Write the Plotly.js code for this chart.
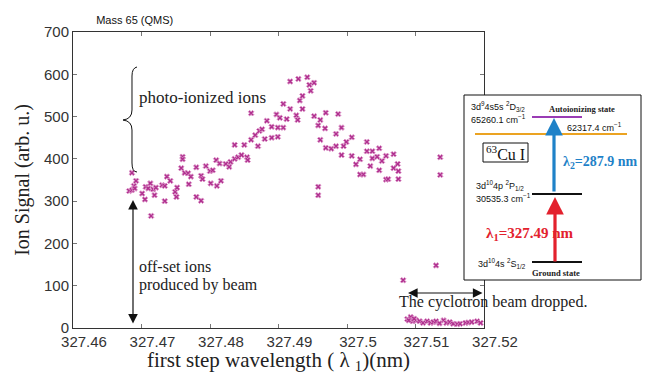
<!DOCTYPE html>
<html>
<head>
<meta charset="utf-8">
<script src="https://cdn.plot.ly/plotly-3.0.1.min.js"></script>
<style>html,body{margin:0;padding:0;background:#fff;}#chart{width:657px;height:374px;}</style>
</head>
<body>
<div id="chart"></div>
<script>
// ---- data ----
const wavelength = [
 327.4682,327.4686,327.4689,327.4690,327.4692,327.4686,327.4701,327.4705,327.4706,327.4710,
 327.4713,327.4717,327.4721,327.4719,327.4730,327.4734,327.4734,327.4714,327.4737,327.4742,
 327.4749,327.4752,327.4751,327.4758,327.4760,327.4760,327.4763,327.4768,327.4772,327.4769,
 327.4780,327.4780,327.4787,327.4787,327.4789,327.4794,327.4800,327.4804,327.4809,327.4801,
 327.4810,327.4814,327.4816,327.4823,327.4828,327.4830,327.4836,327.4841,327.4846,327.4854,
 327.4855,327.4836,327.4850,327.4860,327.4870,327.4866,327.4872,327.4876,327.4880,327.4890,
 327.4899,327.4890,327.4899,327.4907,327.4883,327.4897,327.4902,327.4912,327.4860,327.4926,
 327.4928,327.4907,327.4917,327.4935,327.4931,327.4935,327.4917,327.4929,327.4942,327.4952,
 327.4945,327.4947,327.4952,327.4969,327.4987,327.4961,327.4958,327.4968,327.4992,327.4984,
 327.5007,327.4961,327.4999,327.5029,327.4969,327.4977,327.4984,327.4995,327.5047,327.5029,
 327.5037,327.4992,327.5007,327.5019,327.5037,327.5044,327.5051,327.5057,327.5068,327.5013,
 327.5034,327.5074,327.5068,327.5047,327.5075,327.5019,327.5024,327.5057,327.5060,327.5075,
 327.5136,327.5136,327.4958,327.4958,327.5130,327.5082,
 327.5088,327.5093,327.5096,327.5101,327.5106,327.5111,327.5117,327.5122,327.5126,327.5141,
 327.5145,327.5150,327.5155,327.5161,327.5165,327.5173,327.5177,327.5182,327.5190,327.5195,
 327.5090,327.5098,327.5130,327.5135
];
const ionSignal = [
 324,326,336,330,348,367,318,304,334,330,
 342,328,332,314,338,336,300,265,358,348,
 322,332,310,378,405,399,367,366,358,340,
 380,310,301,360,352,383,371,373,397,342,
 336,389,348,388,381,393,400,404,409,404,
 397,433,433,445,430,456,466,470,447,450,
 452,476,474,474,490,505,497,494,508,503,
 492,530,518,518,538,549,583,589,593,580,
 575,561,501,509,506,492,479,472,474,459,
 451,445,440,440,426,424,430,430,425,418,
 418,409,407,399,401,405,395,407,411,387,
 383,388,378,373,371,363,363,351,352,352,
 404,362,334,314,148,113,
 21,26,16,18,16,12,16,12,14,18,
 12,14,10,9,10,12,13,14,16,12,
 18,22,16,11
];
const xTickVals = [327.46,327.47,327.48,327.49,327.50,327.51,327.52];
const xTickText = ['327.46','327.47','327.48','327.49','327.5','327.51','327.52'];
const yTickVals = [0,100,200,300,400,500,600,700];

// ---- layout helpers (pixel -> paper) ----
const L = 73, T = 32, W = 411, H = 296;
const PX = x => (x - L) / W;
const PY = y => (T + H - y) / H;
const serif = 'Liberation Serif, Times New Roman, serif';
const sans = 'Liberation Sans, Arial, sans-serif';

function pathFrom(cmds){
  return cmds.map(c => {
    const pts = [];
    for (let i = 1; i < c.length; i += 2) pts.push(PX(c[i]).toFixed(5) + ',' + PY(c[i+1]).toFixed(5));
    return c[0] + ' ' + pts.join(' ');
  }).join(' ');
}
const bracePath = pathFrom([
  ['M',137,67],['Q',132,68,132,76],['L',132,110],['Q',132,119,123,120],
  ['Q',132,121,132,130],['L',132,163],['Q',132,172,137,172]
]);

function hline(x0,x1,y,color,w){
  return {type:'line',xref:'paper',yref:'paper',x0:PX(x0),x1:PX(x1),y0:PY(y),y1:PY(y),line:{color:color,width:w},layer:'above'};
}
function txt(text,x,y,size,opts){
  return Object.assign({text:text,xref:'paper',yref:'paper',x:PX(x),y:PY(y),showarrow:false,
    xanchor:'left',yanchor:'middle',font:{family:sans,size:size,color:'#111'}},opts||{});
}
function arrow(xh,yh,xt,yt,color,w,size,both){
  return {text:'',xref:'paper',yref:'paper',x:PX(xh),y:PY(yh),axref:'pixel',ayref:'pixel',
    ax:xt-xh,ay:yt-yh,showarrow:true,arrowhead:2,arrowsize:size,arrowwidth:w,arrowcolor:color,
    arrowside: both ? 'end+start' : 'end',standoff:0,startstandoff:0};
}

const shapes = [
  {type:'path',xref:'paper',yref:'paper',path:bracePath,line:{color:'#111',width:1}},
  {type:'rect',xref:'paper',yref:'paper',x0:PX(464),x1:PX(641),y0:PY(95),y1:PY(280),
    fillcolor:'#ffffff',line:{color:'#111',width:1},layer:'above'},
  hline(532,582,117,'#9a3cb4',2),
  hline(475,627,134,'#eba322',2),
  hline(532,582,194,'#111',2),
  hline(532,582,262,'#111',2),
  {type:'rect',xref:'paper',yref:'paper',x0:PX(483),x1:PX(528),y0:PY(143),y1:PY(162),
    fillcolor:'rgba(0,0,0,0)',line:{color:'#111',width:1},layer:'above'}
];

const annotations = [
  txt('photo-ionized ions',137,97,17,{font:{family:serif,size:17,color:'#222'}}),
  txt('off-set ions',137,266,16,{font:{family:serif,size:16,color:'#222'}}),
  txt('produced by beam',137,285,16,{font:{family:serif,size:16,color:'#222'}}),
  txt('The cyclotron beam dropped.',397,302,16,{font:{family:serif,size:16,color:'#222'}}),
  arrow(133,200,133,325,'#111',1.2,1.6,true),
  arrow(408,293,484,293,'#111',1.2,1.6,true),
  // inset texts
  txt('3d<sup>9</sup>4s5s <sup>2</sup>D<sub>3/2</sub>',469,106,9),
  txt('65260.1 cm<sup>−1</sup>',469,119,9),
  txt('<b>Autoionizing state</b>',582,109,8.5,{xanchor:'center',font:{family:serif,size:8.5,color:'#222'}}),
  txt('62317.4 cm<sup>−1</sup>',565,127,9),
  txt('<sup>63</sup>Cu I',505.5,153,16,{xanchor:'center',font:{family:serif,size:16,color:'#111'}}),
  txt('<b>λ<sub>2</sub>=287.9 nm</b>',561,162,14,{font:{family:serif,size:14,color:'#1f82c8'}}),
  txt('3d<sup>10</sup>4p <sup>2</sup>P<sub>1/2</sub>',474,185,9),
  txt('30535.3 cm<sup>−1</sup>',474,198,9),
  txt('<b>λ<sub>1</sub>=327.49 nm</b>',484,234,15,{font:{family:serif,size:15,color:'#e3212d'}}),
  txt('3d<sup>10</sup>4s <sup>2</sup>S<sub>1/2</sub>',476,263,9),
  txt('<b>Ground state</b>',556,273,8.5,{xanchor:'center',font:{family:serif,size:8.5,color:'#222'}}),
  arrow(554,118,554,193,'#1f82c8',3.2,1.1,false),
  arrow(555,197,555,263,'#e3212d',3.2,1.1,false)
];

const trace = {
  type:'scatter', mode:'markers', x:wavelength, y:ionSignal,
  marker:{symbol:'x', size:5, color:'#b0308f', line:{width:0.9,color:'#dc96c8'}},
  hoverinfo:'x+y'
};

const layout = {
  width:657, height:374, autosize:false,
  margin:{l:L, r:657-L-W, t:T, b:374-T-H, pad:0},
  paper_bgcolor:'#fff', plot_bgcolor:'#fff',
  showlegend:false,
  title:{text:'Mass 65 (QMS)', font:{family:sans,size:11,color:'#111'},
    x:134.7/657, xanchor:'center', xref:'container', y:1-20/374, yref:'container', yanchor:'middle'},
  xaxis:{range:[327.46,327.52], tickvals:xTickVals, ticktext:xTickText,
    ticks:'inside', ticklen:4, tickcolor:'#777', showline:true, linecolor:'#333', linewidth:1,
    mirror:'ticks', showgrid:false, zeroline:false, ticklabelshift:11,
    tickfont:{family:sans,size:15,color:'#333'},
    title:{text:'first step wavelength ( λ <sub>1</sub>)(nm)', font:{family:serif,size:21,color:'#222'}, standoff:9}},
  yaxis:{range:[0,700], tickvals:yTickVals,
    ticks:'inside', ticklen:4, tickcolor:'#777', showline:true, linecolor:'#333', linewidth:1,
    mirror:'ticks', showgrid:false, zeroline:false,
    tickfont:{family:sans,size:15,color:'#333'},
    title:{text:'Ion Signal (arb. u.)', font:{family:serif,size:20,color:'#222'}, standoff:8}},
  shapes:shapes, annotations:annotations
};

Plotly.newPlot('chart',[trace],layout,{displayModeBar:false,staticPlot:true});
</script>
</body>
</html>
